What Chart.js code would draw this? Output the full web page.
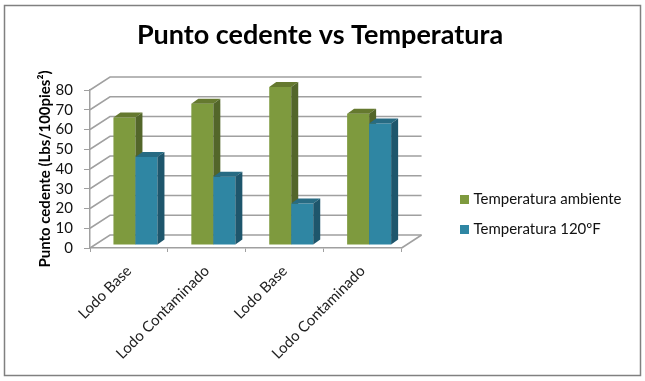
<!DOCTYPE html>
<html>
<head>
<meta charset="utf-8">
<script src="https://cdn.jsdelivr.net/npm/chart.js@4"></script>
<style>
  html, body { margin: 0; padding: 0; background: #fff; }
  canvas { display: block; }
</style>
</head>
<body>
<canvas id="chart" width="645" height="381"></canvas>
<script>
/* DATA */
const categories = ["Lodo Base", "Lodo Contaminado", "Lodo Base", "Lodo Contaminado"];
const tempAmbiente = [64.5, 71.5, 80, 66.5];
const temp120 = [44.5, 34.5, 21, 61.5];

/* depth of the fake 3D box */
const wallDx = 20, wallDy = -13;
const barDx = 6.5, barDy = -3;
const sideDx = 7, sideDy = -5;

/* frame, back wall, floor and the 3D bars */
const box3d = {
  id: "box3d",
  afterLayout(chart) {
    // legend sits away from the plot, not glued to it
    const l = chart.legend;
    l.left = 448;
    l.right = l.left + l.width;
    l.top = 177;
    l.height = 110;
    l.bottom = l.top + l.height;
    // title is centred on the whole frame
    chart.titleBlock.left = 0;
    chart.titleBlock.right = 640;
  },
  beforeDraw(chart) {
    const c = chart.ctx;
    c.save();
    c.strokeStyle = "#808080";
    c.lineWidth = 1.5;
    c.strokeRect(4.5, 5.5, 636, 370);
    c.restore();
  },
  beforeDatasetsDraw(chart) {
    const c = chart.ctx, y = chart.scales.y, x = chart.scales.x;
    c.save();
    c.strokeStyle = "#a0a0a0";
    c.lineWidth = 1.5;
    y.ticks.forEach(t => {
      const py = y.getPixelForValue(t.value);
      c.beginPath();
      c.moveTo(x.left, py);
      c.lineTo(x.left + wallDx, py + wallDy);
      c.lineTo(x.right + wallDx, py + wallDy);
      c.stroke();
    });
    // right end of the floor
    c.beginPath();
    c.moveTo(x.right, y.bottom);
    c.lineTo(x.right + wallDx, y.bottom + wallDy);
    c.stroke();
    c.restore();
  },
  // the default pass goes last to first, we need first to last
  beforeDatasetDraw() {
    return false;
  },
  afterDatasetsDraw(chart) {
    const c = chart.ctx;
    c.save();
    c.translate(barDx, barDy);
    chart.data.datasets.forEach((ds, i) => {
      const meta = chart.getDatasetMeta(i);
      meta.controller.draw();
      meta.data.forEach(bar => {
        const l = bar.x - bar.width / 2, r = bar.x + bar.width / 2;
        // top
        c.fillStyle = ds.topColor;
        c.beginPath();
        c.moveTo(l, bar.y);
        c.lineTo(l + sideDx, bar.y + sideDy);
        c.lineTo(r + sideDx, bar.y + sideDy);
        c.lineTo(r, bar.y);
        c.closePath();
        c.fill();
        // side
        c.fillStyle = ds.sideColor;
        c.beginPath();
        c.moveTo(r, bar.y);
        c.lineTo(r + sideDx, bar.y + sideDy);
        c.lineTo(r + sideDx, bar.base + sideDy);
        c.lineTo(r, bar.base);
        c.closePath();
        c.fill();
      });
    });
    c.restore();
  }
};

new Chart(document.getElementById("chart"), {
  type: "bar",
  plugins: [box3d],
  data: {
    labels: categories,
    datasets: [
      { label: "Temperatura ambiente", data: tempAmbiente, backgroundColor: "#7e9a3e", topColor: "#65792f", sideColor: "#53662a" },
      { label: "Temperatura 120ºF", data: temp120, backgroundColor: "#2f86a3", topColor: "#276b83", sideColor: "#1e566c" }
    ]
  },
  options: {
    responsive: false,
    animation: false,
    categoryPercentage: 0.565,
    barPercentage: 1,
    layout: { padding: { left: 36, right: 60, top: 14, bottom: 10 } },
    plugins: {
      title: {
        display: true,
        text: "Punto cedente vs Temperatura",
        color: "#000",
        font: { family: "Lato", size: 27, weight: "bold" },
        padding: { top: 5, bottom: 38.6 }
      },
      legend: {
        position: "right",
        align: "start",
        maxWidth: 220,
        labels: {
          color: "#111",
          font: { family: "Lato", size: 15 },
          usePointStyle: true,
          pointStyle: "rect",
          boxWidth: 3,
          boxHeight: 9,
          padding: 15
        }
      },
      tooltip: { enabled: false }
    },
    scales: {
      x: {
        afterFit: s => { s.height = 123; },
        border: { color: "#a0a0a0", width: 1.5 },
        grid: { drawOnChartArea: false, color: "#a0a0a0", tickLength: 4 },
        ticks: { color: "#222", maxRotation: 45, minRotation: 45, padding: 10, autoSkip: false, font: { family: "Lato", size: 15 } }
      },
      y: {
        min: 0,
        max: 80,
        afterFit: s => { s.width = 54; },
        border: { color: "#a0a0a0", width: 1.5 },
        grid: { drawOnChartArea: false, color: "#a0a0a0", tickLength: 6 },
        ticks: { color: "#111", stepSize: 10, autoSkip: false, padding: 11, font: { family: "Lato", size: 15 } },
        title: {
          display: true,
          text: "Punto cedente (Lbs/100pies²)",
          color: "#000",
          font: { family: "Lato", size: 15, weight: "bold" },
          padding: { top: 0, bottom: 0 }
        }
      }
    }
  }
});
</script>
</body>
</html>
